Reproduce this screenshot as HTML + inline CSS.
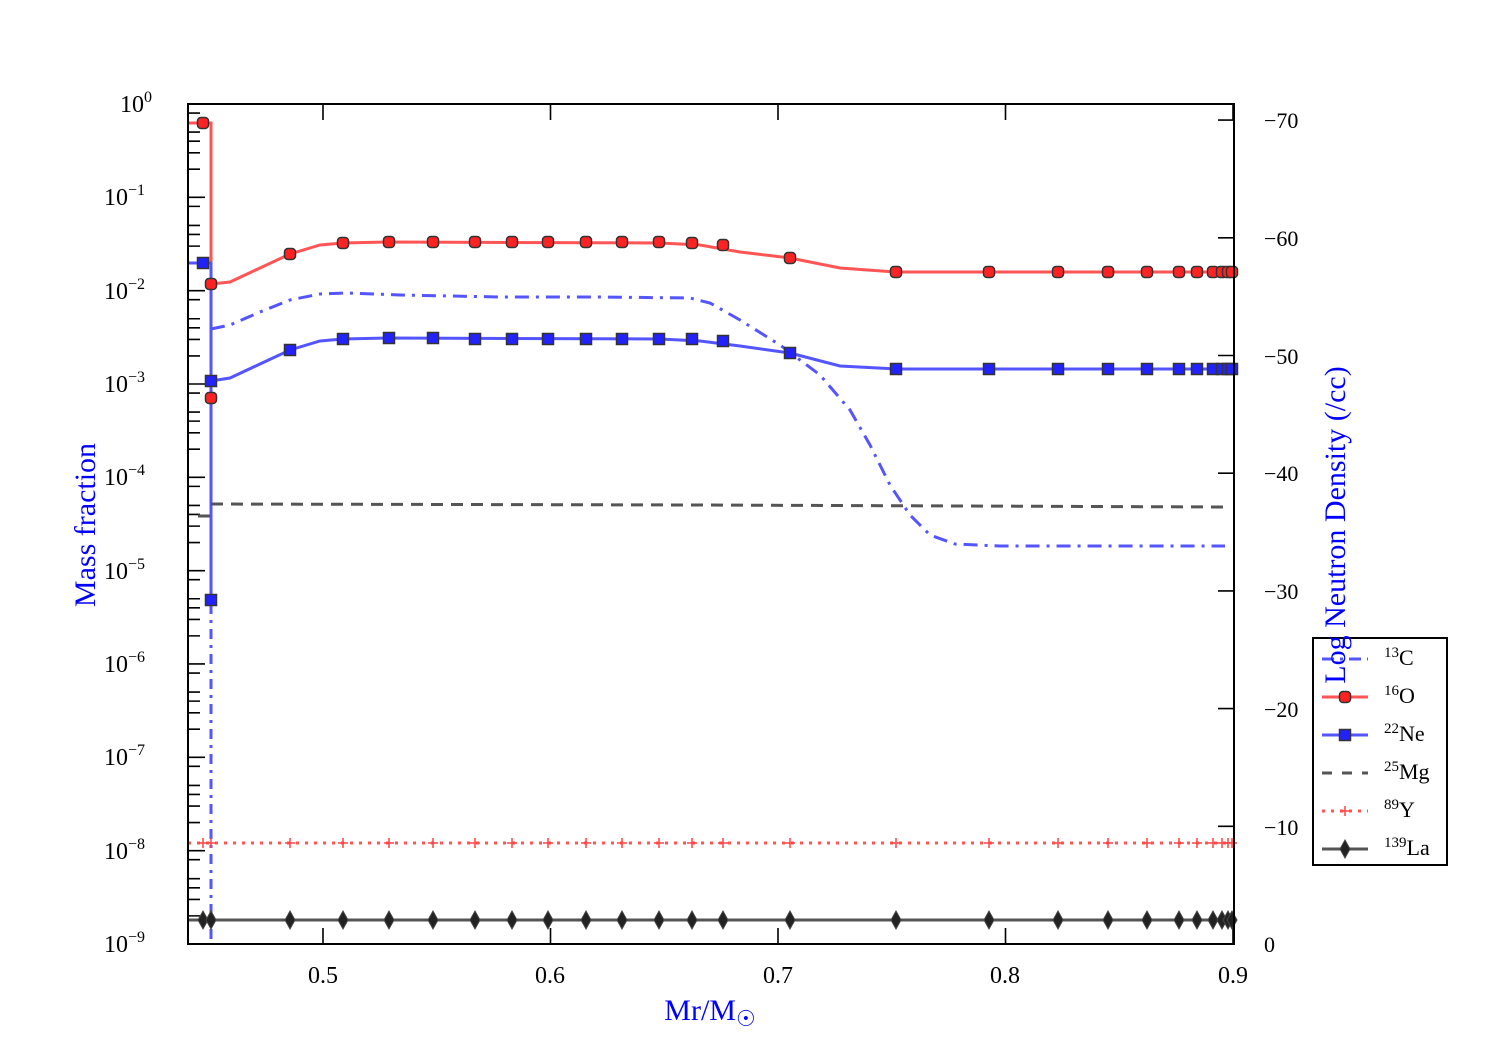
<!DOCTYPE html>
<html><head><meta charset="utf-8"><style>
body{margin:0;background:#fff}
svg text{font-family:"Liberation Serif",serif}
</style></head><body>
<svg width="1500" height="1050" xmlns="http://www.w3.org/2000/svg">
<defs>
<g id="mo"><rect x="-5.5" y="-5.5" width="11" height="11" rx="3.5" fill="#ff2222" stroke="#333" stroke-width="1.5"/></g>
<g id="mn"><rect x="-5.5" y="-5.5" width="11" height="11" fill="#2222ff" stroke="#333" stroke-width="1.5"/></g>
<g id="my"><path d="M-5,0H5M0,-5V5" stroke="#ff4444" stroke-width="1.5"/></g>
<g id="ml"><path d="M0,-9L5,0L0,9L-5,0Z" fill="#222" stroke="#444" stroke-width="1"/></g>
</defs>
<g id="ticks" stroke="#000" stroke-width="1.6" fill="none">
</g>
<g fill="none" stroke-width="3">
<path d="M211,329 L230,325 L260,312 L290,300 L320,294 L345,293 L400,295 L500,297 L600,297 L690,298 L710,303 L740,320 L780,345 L820,375 L850,410 L870,445 L890,485 L910,515 L930,535 L955,544 L1000,546 L1225,546" stroke="#5555ff" stroke-dasharray="14,7,3,7"/>
<path d="M211,329 L211,944" stroke="#5555ff" stroke-dasharray="10,6,3,6"/>
<path d="M188,123 L211,123 L211,284 L230,282 L260,268 L290,254 L320,245 L343,243 L389,242 L660,243 L700,245 L740,252 L790,258 L840,268 L896,272 L1234,272" stroke="#ff5555"/>
<path d="M188,263 L211,263 L211,600 M211,381 L230,378 L260,364 L290,350 L320,341 L343,339 L389,338 L660,339 L700,341 L740,346 L790,353 L840,366 L896,369 L1234,369" stroke="#5555ff"/>
<path d="M211,504 L700,505 L1225,507 M198,516 L211,516" stroke="#555" stroke-dasharray="12,8"/>
<path d="M188,843 L1234,843" stroke="#ff5555" stroke-dasharray="3,6"/>
<path d="M188,920 L1234,920" stroke="#555"/>
</g>
<g>
<use href="#mo" x="203" y="123"/><use href="#mo" x="211" y="284"/><use href="#mo" x="211" y="398"/>
<use href="#mo" x="290" y="254"/><use href="#mo" x="343" y="243"/><use href="#mo" x="389" y="242"/><use href="#mo" x="433" y="242"/><use href="#mo" x="475" y="242"/><use href="#mo" x="512" y="242"/><use href="#mo" x="548" y="242"/><use href="#mo" x="586" y="242"/><use href="#mo" x="622" y="242"/><use href="#mo" x="659" y="242"/><use href="#mo" x="692" y="243"/><use href="#mo" x="723" y="245"/><use href="#mo" x="790" y="258"/><use href="#mo" x="896" y="272"/><use href="#mo" x="989" y="272"/><use href="#mo" x="1058" y="272"/><use href="#mo" x="1108" y="272"/><use href="#mo" x="1147" y="272"/><use href="#mo" x="1179" y="272"/><use href="#mo" x="1197" y="272"/><use href="#mo" x="1213" y="272"/><use href="#mo" x="1222" y="272"/><use href="#mo" x="1228" y="272"/><use href="#mo" x="1232" y="272"/>
<use href="#mn" x="203" y="263"/><use href="#mn" x="211" y="381"/><use href="#mn" x="211" y="600"/>
<use href="#mn" x="290" y="350"/><use href="#mn" x="343" y="339"/><use href="#mn" x="389" y="338"/><use href="#mn" x="433" y="338"/><use href="#mn" x="475" y="339"/><use href="#mn" x="512" y="339"/><use href="#mn" x="548" y="339"/><use href="#mn" x="586" y="339"/><use href="#mn" x="622" y="339"/><use href="#mn" x="659" y="339"/><use href="#mn" x="692" y="339"/><use href="#mn" x="723" y="341"/><use href="#mn" x="790" y="353"/><use href="#mn" x="896" y="369"/><use href="#mn" x="989" y="369"/><use href="#mn" x="1058" y="369"/><use href="#mn" x="1108" y="369"/><use href="#mn" x="1147" y="369"/><use href="#mn" x="1179" y="369"/><use href="#mn" x="1197" y="369"/><use href="#mn" x="1213" y="369"/><use href="#mn" x="1222" y="369"/><use href="#mn" x="1228" y="369"/><use href="#mn" x="1232" y="369"/>
</g>
<g id="ym"></g><g id="lm"></g>
<rect x="188" y="104" width="1046" height="840" fill="none" stroke="#000" stroke-width="2"/>
<g font-size="24" fill="#000">
<text x="323" y="983" text-anchor="middle">0.5</text>
<text x="550" y="983" text-anchor="middle">0.6</text>
<text x="778" y="983" text-anchor="middle">0.7</text>
<text x="1005" y="983" text-anchor="middle">0.8</text>
<text x="1233" y="983" text-anchor="middle">0.9</text>
</g>
<g font-size="24">
<text x="120" y="112">10<tspan font-size="16" dy="-10">0</tspan></text>
<text x="104" y="205">10<tspan font-size="16" dy="-10">−1</tspan></text>
<text x="104" y="299">10<tspan font-size="16" dy="-10">−2</tspan></text>
<text x="104" y="392">10<tspan font-size="16" dy="-10">−3</tspan></text>
<text x="104" y="485">10<tspan font-size="16" dy="-10">−4</tspan></text>
<text x="104" y="579">10<tspan font-size="16" dy="-10">−5</tspan></text>
<text x="104" y="672">10<tspan font-size="16" dy="-10">−6</tspan></text>
<text x="104" y="765">10<tspan font-size="16" dy="-10">−7</tspan></text>
<text x="104" y="859">10<tspan font-size="16" dy="-10">−8</tspan></text>
<text x="104" y="952">10<tspan font-size="16" dy="-10">−9</tspan></text>
</g>
<g font-size="22">
<text x="1264" y="128">−70</text><text x="1264" y="246">−60</text><text x="1264" y="364">−50</text><text x="1264" y="481">−40</text><text x="1264" y="599">−30</text><text x="1264" y="717">−20</text><text x="1264" y="835">−10</text><text x="1264" y="952">0</text>
</g>
<text x="710" y="1020" font-size="30" fill="#0000ff" text-anchor="middle">Mr/M<tspan font-size="22" dy="6">☉</tspan></text>
<text transform="translate(95,525) rotate(-90)" font-size="30" fill="#0000ff" text-anchor="middle">Mass fraction</text>
<rect x="1313" y="638" width="134" height="227" fill="#fff" fill-opacity="0.8" stroke="#000" stroke-width="2"/>
<g fill="none" stroke-width="3">
<path d="M1322,659 L1368,659" stroke="#5555ff" stroke-dasharray="12,6,3,6"/>
<path d="M1322,697 L1368,697" stroke="#ff5555"/>
<path d="M1322,735 L1368,735" stroke="#5555ff"/>
<path d="M1322,773 L1368,773" stroke="#555" stroke-dasharray="10,10"/>
<path d="M1322,811 L1368,811" stroke="#ff5555" stroke-dasharray="3,6"/>
<path d="M1322,849 L1368,849" stroke="#555"/>
</g>
<use href="#mo" x="1345" y="697"/><use href="#mn" x="1345" y="735"/><use href="#my" x="1345" y="811"/><use href="#ml" x="1345" y="849"/>
<g font-size="22">
<text x="1384" y="665"><tspan font-size="15" dy="-8">13</tspan><tspan dy="8">C</tspan></text>
<text x="1384" y="703"><tspan font-size="15" dy="-8">16</tspan><tspan dy="8">O</tspan></text>
<text x="1384" y="741"><tspan font-size="15" dy="-8">22</tspan><tspan dy="8">Ne</tspan></text>
<text x="1384" y="779"><tspan font-size="15" dy="-8">25</tspan><tspan dy="8">Mg</tspan></text>
<text x="1384" y="817"><tspan font-size="15" dy="-8">89</tspan><tspan dy="8">Y</tspan></text>
<text x="1384" y="855"><tspan font-size="15" dy="-8">139</tspan><tspan dy="8">La</tspan></text>
</g>
<text transform="translate(1345,525) rotate(-90)" font-size="30" fill="#0000ff" text-anchor="middle">Log Neutron Density (/cc)</text>
<script>
var ns="http://www.w3.org/2000/svg";
var t=document.getElementById("ticks"),s="";
function L(a,b,c,d){s+="M"+a+","+b+"L"+c+","+d;}
for(var i=0;i<9;i++){var y=104+i*93.33;
 L(188,y,205,y);
 [2,5,8].forEach(function(k){var yy=y+93.33-93.33*Math.log10(k);L(188,yy,200,yy);});
 [3,4].forEach(function(k){var yy=y+93.33-93.33*Math.log10(k);L(188,yy,200,yy);});
}
[323,550.5,778,1005.5,1233].forEach(function(x){L(x,944,x,928);L(x,104,x,120);});
for(var j=0;j<8;j++){var y=944-j*117.7;L(1234,y,1218,y);}
var p=document.createElementNS(ns,"path");p.setAttribute("d",s);t.appendChild(p);
var xs=[203,211,290,343,389,433,475,512,548,586,622,659,692,723,790,896,989,1058,1108,1147,1179,1197,1213,1222,1228,1232];
var ym=document.getElementById("ym"),lm=document.getElementById("lm");
xs.forEach(function(x){var u=document.createElementNS(ns,"use");u.setAttribute("href","#my");u.setAttribute("x",x);u.setAttribute("y",843);ym.appendChild(u);
var v=document.createElementNS(ns,"use");v.setAttribute("href","#ml");v.setAttribute("x",x);v.setAttribute("y",920);lm.appendChild(v);});
</script>
</svg>
</body></html>
